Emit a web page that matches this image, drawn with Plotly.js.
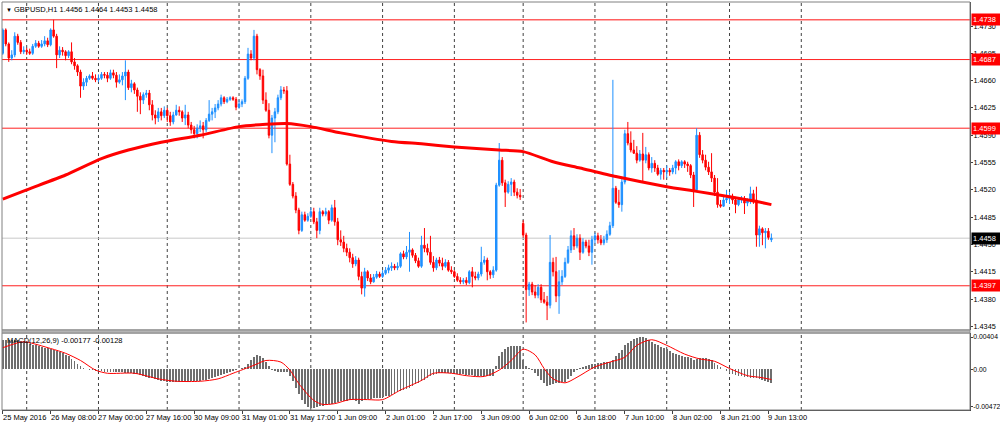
<!DOCTYPE html>
<html>
<head>
<meta charset="utf-8">
<script src="https://cdn.plot.ly/plotly-3.0.1.min.js"></script>
<style>
html,body{margin:0;padding:0;background:#fff;}
#chart{width:1000px;height:426px;}
</style>
</head>
<body>
<div id="chart"></div>
<script>
// ---------- DATA (GBPUSD H1, 25 May 16:00 -> 9 Jun 14:00, bar index 0..257) ----------
const open = [
1.4695,1.4725,1.4707,1.4689,1.4693,1.4717,1.4709,1.4697,1.4699,1.4697,
1.4695,1.4704,1.4708,1.4704,1.4707,1.4711,1.4706,1.4725,1.4717,1.4693,
1.4699,1.4697,1.4692,1.4697,1.4684,1.4679,1.4671,1.4653,1.4658,1.4663,
1.4666,1.4663,1.4661,1.4663,1.4668,1.4667,1.4663,1.4670,1.4667,1.4658,
1.4661,1.4666,1.4671,1.4651,1.4656,1.4648,1.4640,1.4635,1.4642,1.4644,
1.4629,1.4616,1.4612,1.4620,1.4615,1.4622,1.4615,1.4607,1.4616,1.4622,
1.4620,1.4612,1.4616,1.4603,1.4597,1.4592,1.4599,1.4602,1.4597,1.4609,
1.4617,1.4620,1.4625,1.4630,1.4638,1.4633,1.4636,1.4638,1.4636,1.4626,
1.4630,1.4633,1.4663,1.4694,1.4689,1.4717,1.4674,1.4666,1.4635,1.4622,
1.4590,1.4612,1.4620,1.4638,1.4648,1.4647,1.4553,1.4527,1.4512,1.4494,
1.4468,1.4488,1.4481,1.4486,1.4492,1.4479,1.4468,1.4492,1.4489,1.4492,
1.4481,1.4497,1.4479,1.4456,1.4453,1.4445,1.4440,1.4433,1.4425,1.4430,
1.4409,1.4394,1.4415,1.4407,1.4402,1.4408,1.4412,1.4409,1.4413,1.4417,
1.4420,1.4422,1.4420,1.4422,1.4438,1.4434,1.4440,1.4443,1.4436,1.4429,
1.4422,1.4449,1.4445,1.4440,1.4427,1.4420,1.4430,1.4426,1.4422,1.4427,
1.4417,1.4415,1.4409,1.4404,1.4402,1.4404,1.4401,1.4415,1.4409,1.4407,
1.4412,1.4427,1.4430,1.4415,1.4411,1.4417,1.4526,1.4558,1.4529,1.4517,
1.4527,1.4530,1.4517,1.4513,1.4477,1.4462,1.4392,1.4399,1.4389,1.4385,
1.4395,1.4379,1.4376,1.4372,1.4427,1.4415,1.4384,1.4402,1.4409,1.4427,
1.4443,1.4461,1.4448,1.4458,1.4440,1.4453,1.4448,1.4440,1.4456,1.4461,
1.4456,1.4452,1.4456,1.4463,1.4474,1.4522,1.4504,1.4501,1.4530,1.4592,
1.4580,1.4571,1.4567,1.4558,1.4566,1.4558,1.4565,1.4548,1.4554,1.4548,
1.4540,1.4545,1.4543,1.4545,1.4543,1.4548,1.4556,1.4551,1.4556,1.4553,
1.4551,1.4539,1.4520,1.4590,1.4565,1.4558,1.4549,1.4543,1.4535,1.4517,
1.4501,1.4499,1.4507,1.4509,1.4512,1.4507,1.4501,1.4507,1.4508,1.4503,
1.4507,1.4515,1.4507,1.4462,1.4470,1.4465,1.4467,1.4456];
const high = [
1.4727,1.4727,1.4709,1.4699,1.4722,1.4720,1.4712,1.4704,1.4702,1.4701,
1.4707,1.4712,1.4711,1.4712,1.4717,1.4715,1.4727,1.4738,1.4720,1.4704,
1.4703,1.4699,1.4699,1.4709,1.4689,1.4681,1.4674,1.4663,1.4666,1.4668,
1.4671,1.4668,1.4668,1.4671,1.4671,1.4671,1.4674,1.4674,1.4671,1.4668,
1.4671,1.4686,1.4674,1.4661,1.4658,1.4651,1.4645,1.4645,1.4648,1.4648,
1.4635,1.4622,1.4625,1.4625,1.4627,1.4625,1.4620,1.4620,1.4629,1.4627,
1.4622,1.4629,1.4620,1.4607,1.4602,1.4604,1.4609,1.4607,1.4612,1.4635,
1.4625,1.4630,1.4635,1.4642,1.4640,1.4639,1.4640,1.4640,1.4639,1.4635,
1.4636,1.4666,1.4702,1.4699,1.4725,1.4720,1.4676,1.4674,1.4645,1.4631,
1.4616,1.4625,1.4642,1.4653,1.4652,1.4653,1.4565,1.4530,1.4517,1.4497,
1.4492,1.4492,1.4490,1.4497,1.4497,1.4484,1.4497,1.4494,1.4497,1.4494,
1.4501,1.4507,1.4484,1.4468,1.4461,1.4451,1.4445,1.4438,1.4435,1.4433,
1.4415,1.4420,1.4417,1.4412,1.4412,1.4416,1.4415,1.4417,1.4421,1.4424,
1.4427,1.4425,1.4427,1.4440,1.4442,1.4448,1.4466,1.4445,1.4439,1.4433,
1.4461,1.4471,1.4451,1.4461,1.4435,1.4433,1.4434,1.4433,1.4431,1.4430,
1.4422,1.4417,1.4413,1.4408,1.4407,1.4408,1.4417,1.4421,1.4415,1.4415,
1.4447,1.4435,1.4433,1.4417,1.4422,1.4529,1.4580,1.4562,1.4533,1.4531,
1.4535,1.4533,1.4522,1.4521,1.4481,1.4465,1.4402,1.4402,1.4398,1.4399,
1.4399,1.4389,1.4384,1.4462,1.4433,1.4434,1.4417,1.4417,1.4433,1.4448,
1.4468,1.4471,1.4463,1.4463,1.4458,1.4456,1.4456,1.4461,1.4465,1.4465,
1.4462,1.4461,1.4468,1.4479,1.4661,1.4525,1.4520,1.4535,1.4597,1.4607,
1.4595,1.4584,1.4576,1.4571,1.4593,1.4575,1.4568,1.4562,1.4558,1.4552,
1.4548,1.4548,1.4551,1.4548,1.4552,1.4558,1.4559,1.4558,1.4558,1.4556,
1.4553,1.4543,1.4599,1.4594,1.4571,1.4565,1.4556,1.4567,1.4539,1.4535,
1.4507,1.4511,1.4520,1.4517,1.4515,1.4511,1.4509,1.4512,1.4512,1.4509,
1.4524,1.4520,1.4524,1.4474,1.4472,1.4471,1.4471,1.4464];
const low = [
1.4693,1.4704,1.4684,1.4686,1.4690,1.4706,1.4694,1.4694,1.4693,1.4693,
1.4693,1.4702,1.4702,1.4702,1.4704,1.4703,1.4704,1.4715,1.4676,1.4689,
1.4692,1.4686,1.4689,1.4681,1.4674,1.4666,1.4638,1.4648,1.4653,1.4661,
1.4661,1.4658,1.4658,1.4661,1.4663,1.4658,1.4661,1.4663,1.4651,1.4656,
1.4654,1.4635,1.4648,1.4645,1.4643,1.4620,1.4617,1.4630,1.4638,1.4622,
1.4609,1.4604,1.4607,1.4609,1.4612,1.4607,1.4602,1.4604,1.4615,1.4615,
1.4607,1.4603,1.4599,1.4592,1.4586,1.4586,1.4594,1.4586,1.4594,1.4607,
1.4609,1.4612,1.4622,1.4627,1.4630,1.4631,1.4634,1.4634,1.4622,1.4624,
1.4626,1.4630,1.4661,1.4686,1.4686,1.4668,1.4661,1.4630,1.4620,1.4586,
1.4567,1.4581,1.4617,1.4635,1.4643,1.4551,1.4525,1.4509,1.4490,1.4463,
1.4466,1.4479,1.4479,1.4484,1.4476,1.4458,1.4463,1.4486,1.4486,1.4476,
1.4479,1.4474,1.4449,1.4448,1.4440,1.4435,1.4427,1.4420,1.4422,1.4404,
1.4386,1.4383,1.4403,1.4399,1.4401,1.4406,1.4407,1.4407,1.4411,1.4413,
1.4416,1.4417,1.4417,1.4420,1.4431,1.4431,1.4415,1.4433,1.4426,1.4420,
1.4420,1.4440,1.4436,1.4424,1.4415,1.4417,1.4422,1.4417,1.4420,1.4415,
1.4412,1.4407,1.4402,1.4399,1.4399,1.4398,1.4399,1.4395,1.4404,1.4404,
1.4409,1.4424,1.4404,1.4406,1.4407,1.4415,1.4524,1.4525,1.4498,1.4515,
1.4512,1.4512,1.4509,1.4507,1.4459,1.4350,1.4384,1.4385,1.4381,1.4381,
1.4375,1.4374,1.4353,1.4368,1.4409,1.4376,1.4361,1.4398,1.4407,1.4425,
1.4439,1.4443,1.4445,1.4430,1.4438,1.4445,1.4435,1.4424,1.4451,1.4451,
1.4449,1.4449,1.4452,1.4461,1.4471,1.4502,1.4497,1.4492,1.4527,1.4577,
1.4568,1.4566,1.4554,1.4556,1.4530,1.4554,1.4545,1.4542,1.4543,1.4538,
1.4533,1.4533,1.4535,1.4538,1.4540,1.4540,1.4545,1.4548,1.4548,1.4543,
1.4535,1.4498,1.4517,1.4561,1.4554,1.4545,1.4539,1.4530,1.4512,1.4497,
1.4497,1.4498,1.4503,1.4502,1.4502,1.4490,1.4499,1.4503,1.4489,1.4499,
1.4502,1.4502,1.4447,1.4447,1.4449,1.4445,1.4456,1.4453];
const close = [
1.4725,1.4707,1.4689,1.4693,1.4717,1.4709,1.4697,1.4699,1.4697,1.4695,
1.4704,1.4708,1.4704,1.4707,1.4711,1.4706,1.4725,1.4717,1.4693,1.4699,
1.4697,1.4692,1.4697,1.4684,1.4679,1.4671,1.4653,1.4658,1.4663,1.4666,
1.4663,1.4661,1.4663,1.4668,1.4667,1.4663,1.4670,1.4667,1.4658,1.4661,
1.4666,1.4671,1.4651,1.4656,1.4648,1.4640,1.4635,1.4642,1.4644,1.4629,
1.4616,1.4612,1.4620,1.4615,1.4622,1.4615,1.4607,1.4616,1.4622,1.4620,
1.4612,1.4616,1.4603,1.4597,1.4592,1.4599,1.4602,1.4597,1.4609,1.4617,
1.4620,1.4625,1.4630,1.4638,1.4633,1.4636,1.4638,1.4636,1.4626,1.4630,
1.4633,1.4663,1.4694,1.4689,1.4717,1.4674,1.4666,1.4635,1.4622,1.4590,
1.4612,1.4620,1.4638,1.4648,1.4647,1.4553,1.4527,1.4512,1.4494,1.4468,
1.4488,1.4481,1.4486,1.4492,1.4479,1.4468,1.4492,1.4489,1.4492,1.4481,
1.4497,1.4479,1.4456,1.4453,1.4445,1.4440,1.4433,1.4425,1.4430,1.4409,
1.4394,1.4415,1.4407,1.4402,1.4408,1.4412,1.4409,1.4413,1.4417,1.4420,
1.4422,1.4420,1.4422,1.4438,1.4434,1.4440,1.4443,1.4436,1.4429,1.4422,
1.4449,1.4445,1.4440,1.4427,1.4420,1.4430,1.4426,1.4422,1.4427,1.4417,
1.4415,1.4409,1.4404,1.4402,1.4404,1.4401,1.4415,1.4409,1.4407,1.4412,
1.4427,1.4430,1.4415,1.4411,1.4417,1.4526,1.4558,1.4529,1.4517,1.4527,
1.4530,1.4517,1.4513,1.4511,1.4462,1.4392,1.4399,1.4389,1.4385,1.4395,
1.4379,1.4376,1.4372,1.4427,1.4415,1.4384,1.4402,1.4409,1.4427,1.4443,
1.4461,1.4448,1.4458,1.4440,1.4453,1.4448,1.4440,1.4456,1.4461,1.4456,
1.4452,1.4456,1.4463,1.4474,1.4522,1.4504,1.4501,1.4530,1.4592,1.4580,
1.4571,1.4567,1.4558,1.4566,1.4558,1.4565,1.4548,1.4554,1.4548,1.4540,
1.4545,1.4543,1.4545,1.4543,1.4548,1.4556,1.4551,1.4556,1.4553,1.4551,
1.4539,1.4520,1.4590,1.4565,1.4558,1.4549,1.4543,1.4535,1.4517,1.4501,
1.4499,1.4507,1.4509,1.4512,1.4507,1.4501,1.4507,1.4508,1.4503,1.4507,
1.4515,1.4507,1.4462,1.4470,1.4465,1.4467,1.4459,1.4458];

// MACD(12,26,9) main (histogram), one value per bar
const macdMain = [
0.00370,0.00368,0.00366,0.00365,0.00363,0.00362,0.00360,0.00358,
0.00330,0.00315,0.00305,0.00298,0.00290,0.00280,0.00270,0.00262,0.00255,
0.00245,0.00235,0.00220,0.00200,0.00180,0.00160,0.00130,0.00100,0.00070,0.00040,
0.00020,0.00005,-0.00005,-0.00012,-0.00018,-0.00022,
-0.00025,-0.00028,-0.00030,-0.00030,-0.00032,-0.00035,-0.00038,-0.00040,-0.00042,-0.00045,-0.00050,-0.00058,-0.00065,-0.00075,
-0.00085,-0.00095,-0.00105,-0.00115,-0.00125,-0.00135,-0.00145,-0.00152,-0.00158,
-0.00160,-0.00162,-0.00162,-0.00160,-0.00158,-0.00156,-0.00155,-0.00152,-0.00150,-0.00148,-0.00145,
-0.00140,-0.00132,-0.00122,-0.00110,-0.00098,-0.00085,-0.00072,-0.00060,-0.00045,-0.00030,-0.00018,
-0.00008,0.00002,0.00010,0.00025,0.00060,
0.00110,0.00150,0.00175,0.00170,0.00140,
0.00095,0.00040,
-0.00010,-0.00025,-0.00030,-0.00030,-0.00028,-0.00035,
-0.00080,-0.00150,-0.00230,-0.00310,-0.00380,-0.00440,-0.00475,
-0.00485,-0.00480,-0.00470,-0.00462,-0.00455,-0.00448,-0.00440,-0.00430,
-0.00420,-0.00410,-0.00400,-0.00395,-0.00392,-0.00390,-0.00390,-0.00395,-0.00440,-0.00395,
-0.00385,-0.00375,-0.00370,-0.00365,-0.00360,-0.00355,-0.00350,
-0.00340,-0.00330,-0.00320,-0.00305,-0.00290,-0.00275,-0.00260,-0.00245,-0.00230,-0.00210,-0.00190,-0.00170,-0.00150,-0.00130,-0.00110,
-0.00090,-0.00075,-0.00060,-0.00050,-0.00045,-0.00042,-0.00042,-0.00045,-0.00050,
-0.00055,-0.00060,-0.00065,-0.00070,-0.00072,-0.00075,-0.00078,-0.00080,-0.00082,-0.00080,-0.00082,-0.00085,-0.00080,
0.00040,0.00160,
0.00220,0.00260,0.00280,0.00290,0.00292,0.00294,0.00290,
0.00120,
0.00040,0.00015,-0.00010,
-0.00050,-0.00090,-0.00130,-0.00170,-0.00205,
-0.00195,-0.00185,-0.00175,-0.00170,-0.00165,-0.00160,
-0.00120,-0.00080,-0.00040,-0.00010,
0.00020,0.00030,0.00040,0.00050,0.00060,0.00065,
0.00075,0.00080,0.00085,0.00090,0.00095,0.00110,
0.00160,0.00200,0.00240,
0.00300,0.00330,0.00355,0.00375,0.00390,
0.00400,0.00398,0.00390,0.00370,0.00345,0.00320,
0.00300,0.00285,0.00270,0.00255,0.00235,0.00210,
0.00190,0.00175,0.00165,0.00158,0.00150,0.00140,
0.00115,0.00125,0.00135,0.00140,0.00135,0.00125,0.00115,
0.00080,0.00050,0.00025,0.00000,-0.00025,
-0.00050,-0.00060,-0.00070,-0.00080,-0.00090,
-0.00095,-0.00100,-0.00105,-0.00110,-0.00115,-0.00120,
-0.00140,-0.00150,-0.00165,-0.00177];

// MACD signal line (read at selected bars)
const signalBars = [0,6,8,16,21,26,31,35,44,52,58,66,72,77,84,88,93,96,99,104,107,111,116,122,127,133,140,144,150,155,161,166,170,174,178,181,184,188,192,198,203,208,212,217,222,228,233,238,243,249,253,257];
const signalVals = [0.0027,0.0034,0.0034,0.0026,0.0020,0.0011,-0.0001,-0.0005,-0.0005,-0.0012,-0.0015,-0.0015,-0.0012,-0.0005,0.0005,0.0011,0.0009,-0.0001,-0.0018,-0.0039,-0.0044,-0.0043,-0.0038,-0.0038,-0.0038,-0.0026,-0.0014,-0.0005,-0.0005,-0.0008,-0.0009,-0.0001,0.0011,0.0025,0.0018,0.0001,-0.0012,-0.0017,-0.0010,0.0003,0.0009,0.0015,0.0030,0.0037,0.0030,0.0019,0.0013,0.0010,0.0001,-0.0008,-0.0010,-0.00128];

// Moving average (thick red line), read at selected bars
const maBars = [0,8,21,33,42,53,66,79,88,95,103,113,130,140,151,166,174,184,193,205,222,232,243,252,257];
const maVals = [1.4508,1.4520,1.4539,1.4560,1.4571,1.4581,1.4590,1.4601,1.4604,1.4605,1.4601,1.4593,1.4582,1.4579,1.4575,1.4571,1.4569,1.4556,1.4548,1.4537,1.4524,1.4518,1.4511,1.4505,1.4501];

// Horizontal levels
const redLevels = [1.4738, 1.4687, 1.4599, 1.4397];
const bidLevel = 1.4458;

// Axes
const priceTicks = [1.4345,1.4380,1.4415,1.4450,1.4485,1.4520,1.4555,1.4590,1.4625,1.4660,1.4695,1.4730];
const macdTicks = [0.00404, 0, -0.00472];
const macdTickText = ['0.00404','0.00','-0.00472'];
const timeLabelBars = [0,16,32,48,64,80,96,112,128,144,160,176,192,208,224,240,256];
const timeLabels = ['25 May 2016','26 May 08:00','27 May 00:00','27 May 16:00','30 May 09:00','31 May 01:00','31 May 17:00','1 Jun 09:00','2 Jun 01:00','2 Jun 17:00','3 Jun 09:00','6 Jun 02:00','6 Jun 18:00','7 Jun 10:00','8 Jun 02:00','8 Jun 21:00','9 Jun 13:00'];
const daySeparatorBars = [8,32,55,79,103,127,151,174,198,222,243,267];

const symbolTitle = 'GBPUSD,H1 1.4456 1.4464 1.4453 1.4458';
const macdTitle = 'MACD(12,26,9) -0.00177 -0.00128';

// ---------- CHART ----------
const bars = close.map((_, i) => i);
const FONT = 'Liberation Sans, Arial, sans-serif';
const MAIN_DOM = [0.1961, 1];
const MACD_DOM = [0, 0.1887];
const XR = [-0.259, 323.41];

const traces = [
  {
    type: 'candlestick', x: bars, open: open, high: high, low: low, close: close,
    xaxis: 'x', yaxis: 'y',
    increasing: {line: {color: '#1e90ff', width: 1}, fillcolor: '#1e90ff'},
    decreasing: {line: {color: '#ff0000', width: 1}, fillcolor: '#ff0000'},
    whiskerwidth: 0, hoverinfo: 'skip', showlegend: false
  },
  {
    type: 'scatter', mode: 'lines', x: maBars, y: maVals, xaxis: 'x', yaxis: 'y',
    line: {color: '#ff0000', width: 3, shape: 'spline', smoothing: 0.6},
    hoverinfo: 'skip', showlegend: false
  },
  {
    type: 'bar', x: bars, y: macdMain, xaxis: 'x2', yaxis: 'y2',
    marker: {color: '#6e6e6e', line: {width: 0}}, width: 0.62,
    hoverinfo: 'skip', showlegend: false
  },
  {
    type: 'scatter', mode: 'lines', x: signalBars, y: signalVals, xaxis: 'x2', yaxis: 'y2',
    line: {color: '#ff0000', width: 1, shape: 'spline', smoothing: 0.8},
    hoverinfo: 'skip', showlegend: false
  }
];

const shapes = [];
// day separators (dotted vertical)
daySeparatorBars.forEach(b => {
  shapes.push({type: 'line', xref: 'x', yref: 'paper', x0: b, x1: b, y0: MAIN_DOM[0], y1: 1,
    line: {color: '#404040', width: 1, dash: 'dot'}, layer: 'below'});
  shapes.push({type: 'line', xref: 'x2', yref: 'paper', x0: b, x1: b, y0: 0, y1: MACD_DOM[1],
    line: {color: '#404040', width: 1, dash: 'dot'}, layer: 'below'});
});
// bid line
shapes.push({type: 'line', xref: 'paper', yref: 'y', x0: 0, x1: 1, y0: bidLevel, y1: bidLevel,
  line: {color: '#c8c8c8', width: 1}, layer: 'below'});
// red levels
redLevels.forEach((v, k) => {
  shapes.push({type: 'line', xref: 'paper', yref: 'y', x0: 0, x1: 1, y0: v, y1: v,
    line: {color: k === 0 ? '#ff6060' : '#ff2020', width: k === 0 ? 1.6 : 1}, layer: 'below'});
});
// panel frames
shapes.push({type: 'rect', xref: 'paper', yref: 'paper', x0: 0, x1: 1, y0: MAIN_DOM[0], y1: 1,
  line: {color: '#808080', width: 1}, fillcolor: 'rgba(0,0,0,0)'});
shapes.push({type: 'rect', xref: 'paper', yref: 'paper', x0: 0, x1: 1, y0: 0, y1: MACD_DOM[1],
  line: {color: '#808080', width: 1}, fillcolor: 'rgba(0,0,0,0)'});
// separator bar between panels
shapes.push({type: 'rect', xref: 'paper', yref: 'paper', x0: 0, x1: 1, y0: MACD_DOM[1], y1: MAIN_DOM[0],
  line: {color: '#8c8c8c', width: 1}, fillcolor: '#b4b4b4'});

const annotations = [];
annotations.push({xref: 'paper', yref: 'paper', x: 0, y: 1, xanchor: 'left', yanchor: 'top',
  xshift: 2, yshift: -1, showarrow: false, align: 'left',
  text: '<span style="font-size:6px">▼</span> ' + symbolTitle, font: {family: FONT, size: 7.5, color: '#000'}});
annotations.push({xref: 'paper', yref: 'paper', x: 0, y: MACD_DOM[1], xanchor: 'left', yanchor: 'top',
  xshift: 3, yshift: -1, showarrow: false, text: macdTitle, font: {family: FONT, size: 7.5, color: '#000'}});
timeLabelBars.forEach((b, k) => {
  annotations.push({xref: 'x2', yref: 'paper', x: b, y: 0, xanchor: 'left', yanchor: 'top',
    xshift: -2, yshift: -1, showarrow: false, text: timeLabels[k], font: {family: FONT, size: 7.5, color: '#000'}});
});
redLevels.forEach(v => {
  annotations.push({xref: 'paper', yref: 'y', x: 1, y: v, xanchor: 'left', yanchor: 'middle',
    xshift: 1, showarrow: false, text: v.toFixed(4), bgcolor: '#ff0000', borderpad: 1,
    width: 26, align: 'left', font: {family: FONT, size: 7.5, color: '#fff'}});
});
annotations.push({xref: 'paper', yref: 'y', x: 1, y: bidLevel, xanchor: 'left', yanchor: 'middle',
  xshift: 1, showarrow: false, text: bidLevel.toFixed(4), bgcolor: '#000000', borderpad: 1,
  width: 26, align: 'left', font: {family: FONT, size: 7.5, color: '#fff'}});

const layout = {
  width: 1000, height: 426,
  margin: {l: 2, r: 30, t: 2, b: 16, pad: 0},
  paper_bgcolor: '#ffffff', plot_bgcolor: '#ffffff',
  showlegend: false, bargap: 0,
  font: {family: FONT, size: 7.5, color: '#000'},
  xaxis: {domain: [0, 1], range: XR, anchor: 'y', showgrid: false, zeroline: false,
    showticklabels: false, ticks: '', rangeslider: {visible: false}, fixedrange: true},
  xaxis2: {domain: [0, 1], range: XR, anchor: 'y2', matches: 'x', showgrid: false, zeroline: false,
    showticklabels: false, ticks: 'outside', ticklen: 3, tickcolor: '#404040',
    tickmode: 'array', tickvals: timeLabelBars, showline: true, linecolor: '#404040', linewidth: 1},
  yaxis: {domain: MAIN_DOM, range: [1.43403, 1.47608], side: 'right', anchor: 'x',
    showgrid: false, zeroline: false, tickmode: 'array', tickvals: priceTicks, tickformat: '.4f',
    ticks: 'outside', ticklen: 2, tickcolor: '#404040', showline: true, linecolor: '#404040',
    ticklabelstandoff: -1,
    tickfont: {family: FONT, size: 7.3, color: '#000'}},
  yaxis2: {domain: MACD_DOM, range: [-0.0051, 0.00454], side: 'right', anchor: 'x2',
    showgrid: false, zeroline: false, tickmode: 'array', tickvals: macdTicks, ticktext: macdTickText,
    ticks: 'outside', ticklen: 2, tickcolor: '#404040', showline: true, linecolor: '#404040',
    ticklabelstandoff: -1,
    tickfont: {family: FONT, size: 6.8, color: '#000'}},
  shapes: shapes,
  annotations: annotations
};

Plotly.newPlot('chart', traces, layout, {staticPlot: true, displayModeBar: false});
</script>
</body>
</html>
